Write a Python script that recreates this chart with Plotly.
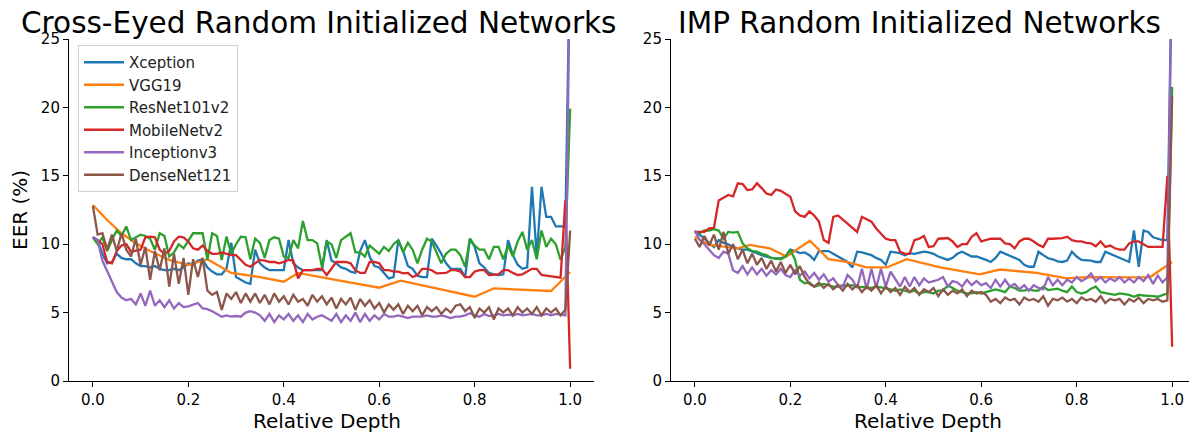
import numpy as np
import plotly.graph_objects as go

names = ["Xception", "VGG19", "ResNet101v2", "MobileNetv2", "Inceptionv3", "DenseNet121"]
colors = ["#1f77b4", "#ff7f0e", "#2ca02c", "#d62728", "#9467bd", "#8c564b"]

# ---------------- Cross-Eyed (left) ----------------
ce_xception = [
    10.5, 10.3, 9.3, 8.6, 8.7, 9.3, 9.0, 8.9, 8.9, 8.6,
    8.4, 8.4, 8.3, 8.4, 8.2, 8.1, 8.1, 8.2, 8.1, 8.3,
    8.6, 8.5, 8.8, 8.9, 8.3, 8.0, 7.8, 7.8, 8.2, 10.1,
    7.6, 7.4, 7.2, 7.1, 9.6, 8.6, 8.3, 8.1, 8.1, 8.1,
    8.1, 10.3, 8.6, 8.3, 8.1, 8.1, 8.1, 8.1, 8.1, 10.3,
    8.8, 8.6, 8.3, 8.2, 8.0, 7.9, 9.5, 10.3, 9.1, 8.4,
    8.3, 7.9, 7.5, 7.6, 10.3, 9.5, 8.4, 8.2, 7.7, 7.6,
    7.6, 10.4, 9.9, 9.3, 8.6, 8.2, 8.2, 8.2, 7.6, 10.4,
    9.8, 8.6, 8.3, 7.9, 7.8, 7.75, 7.8, 10.3, 9.2, 8.5,
    8.2, 8.3, 14.2, 9.1, 14.2, 12.0, 12.0, 11.3, 11.3, 11.3,
    32.0]
ce_vgg_x = [0, 0.03, 0.06, 0.09, 0.12, 0.16, 0.2, 0.24, 0.29, 0.35, 0.4, 0.43,
            0.5, 0.6, 0.645, 0.8, 0.84, 0.96, 1.0]
ce_vgg = [12.87, 11.77, 10.8, 10.07, 9.5, 8.85, 8.48, 8.9, 7.9, 7.6, 7.26, 7.9,
          7.45, 6.82, 7.33, 6.16, 6.77, 6.58, 7.97]
ce_resnet = [
    10.5, 10.0, 10.5, 9.5, 10.3, 11.0, 10.6, 11.3, 10.3, 10.5,
    10.7, 10.6, 10.4, 9.6, 10.8, 10.6, 9.1, 9.4, 10.0, 9.7,
    10.3, 10.8, 10.8, 10.8, 8.85, 10.8, 10.6, 8.85, 10.55, 9.3,
    10.0, 10.55, 10.5, 8.9, 10.4, 10.1, 9.0, 10.3, 10.5, 10.4,
    9.1, 9.0, 10.3, 9.7, 11.7, 10.3, 10.3, 10.06, 8.35, 10.2,
    10.0, 9.0, 10.3, 10.55, 10.8, 9.4, 9.4, 9.1, 9.9, 9.6,
    9.3, 9.8, 9.5, 10.0, 10.3, 9.4, 10.1, 9.6, 8.6, 9.6,
    10.4, 10.2, 9.4, 8.6, 9.3, 9.6, 9.6, 9.2, 8.35, 10.4,
    9.9, 9.6, 9.6, 8.9, 9.8, 9.8, 8.9, 9.9, 9.1, 10.2,
    10.9, 9.6, 10.3, 8.9, 11.0, 9.8, 10.4, 10.0, 8.85, 9.8,
    19.9]
ce_mobilenet = [
    10.5, 10.3, 10.0, 8.7, 8.6, 9.5, 9.9, 10.0, 9.45, 9.5,
    9.6, 10.5, 10.55, 10.5, 9.6, 9.3, 9.5, 10.2, 10.55, 10.5,
    10.2, 9.7, 9.6, 9.9, 9.5, 9.3, 9.3, 9.4, 9.3, 9.2,
    9.2, 8.85, 8.5, 8.35, 8.6, 8.85, 8.8, 8.7, 8.7, 8.6,
    8.7, 8.85, 8.8, 7.5, 8.1, 8.1, 8.1, 8.2, 8.2, 7.75,
    8.2, 8.7, 8.7, 8.7, 8.6, 8.1, 7.9, 7.9, 8.7, 8.7,
    8.6, 8.1, 8.1, 8.0, 8.0, 7.87, 7.9, 7.6, 7.75, 8.2,
    8.2, 8.1, 7.87, 7.9, 7.9, 8.1, 8.1, 8.0, 7.6, 7.6,
    8.0, 8.1, 8.1, 7.75, 7.75, 7.8, 8.1, 8.1, 7.9, 7.75,
    7.8, 8.0, 8.2, 8.2, 7.75, 7.7, 7.65, 7.6, 7.55, 13.2,
    0.9]
ce_inception = [
    10.5, 10.3, 8.8, 8.0, 7.2, 6.5, 6.1, 5.9, 6.0, 5.6,
    6.4, 5.5, 6.6, 5.5, 5.9, 5.4, 5.9, 5.3, 5.7, 5.4,
    5.45, 5.6, 5.7, 5.3, 5.25, 5.1, 4.9, 4.7, 4.8, 4.7,
    4.75, 4.7, 5.0, 5.1, 5.0, 4.8, 4.4, 4.9, 4.3, 4.8,
    4.5, 4.9, 4.4, 4.8, 4.3, 4.9, 4.5, 4.7, 4.8, 4.6,
    4.4, 4.9, 4.3, 4.8, 4.4, 5.0, 4.3, 4.9, 4.4, 4.8,
    4.5, 4.9, 4.7, 4.7, 4.8, 4.7, 4.6, 4.7, 4.7, 4.7,
    4.8, 4.7, 4.7, 4.8, 4.7, 4.6, 4.7, 4.7, 4.8, 4.95,
    4.8, 4.7, 4.9, 4.75, 4.8, 4.9, 4.8, 4.85, 4.8, 4.9,
    4.8, 4.85, 4.9, 4.8, 4.8, 4.9, 4.8, 4.9, 4.85, 4.8,
    32.0]
ce_densenet = [
    12.8, 10.7, 10.8, 9.6, 10.7, 9.5, 10.8, 9.6, 9.1, 10.4,
    8.5, 9.8, 7.4, 9.5, 8.1, 9.7, 6.9, 9.3, 7.1, 9.0,
    6.3, 8.9, 7.6, 9.0, 6.6, 6.3, 6.5, 5.2, 6.4, 6.0,
    6.5, 5.7, 6.4, 5.8, 6.4, 5.7, 6.3, 5.6, 6.4, 5.8,
    6.2, 5.6, 6.3, 5.8, 6.0, 5.5, 6.3, 5.8, 6.2, 5.6,
    6.1, 5.3, 6.0, 5.6, 6.1, 5.2, 6.0, 5.5, 5.9, 5.3,
    5.7, 5.0, 5.6, 5.2, 5.6, 4.9, 5.5, 5.1, 5.5, 4.8,
    5.4, 5.1, 5.4, 4.9, 5.3, 5.0, 5.5, 5.6, 5.1, 5.4,
    4.6, 5.3, 5.0, 5.4, 4.5, 5.3, 5.0, 5.3, 4.8, 5.4,
    5.0, 5.3, 4.9, 5.4, 4.8, 5.3, 5.0, 5.3, 4.8, 5.2,
    11.0]

# ---------------- IMP (right) ----------------
imp_xception = [
    10.9, 10.7, 10.4, 10.1, 9.8, 10.3, 10.1, 10.0, 9.8, 9.7,
    9.6, 9.6, 9.5, 9.35, 9.2, 9.1, 9.0, 8.97, 8.97, 9.1,
    9.6, 9.5, 9.35, 9.4, 9.2, 8.85, 9.5, 9.5, 9.5, 9.3,
    9.1, 8.9, 8.7, 8.3, 9.45, 9.4, 9.3, 9.2, 9.0, 8.85,
    8.5, 9.45, 9.4, 9.35, 9.2, 9.35, 9.3, 9.35, 9.45, 9.4,
    9.3, 9.1, 9.0, 8.85, 9.0, 9.3, 9.45, 9.3, 9.1, 9.1,
    9.0, 8.85, 8.7, 9.0, 9.45, 9.3, 9.1, 8.97, 8.85, 8.5,
    8.35, 8.35, 9.45, 9.2, 8.97, 8.9, 8.75, 8.7, 8.8, 9.45,
    9.1, 8.85, 8.85, 8.8, 8.7, 8.7, 9.45, 9.3, 9.1, 8.97,
    8.8, 8.7, 11.0, 8.35, 11.0, 10.9, 10.5, 10.4, 10.3, 10.3,
    32.0]
imp_vgg_x = [0, 0.03, 0.065, 0.09, 0.115, 0.157, 0.192, 0.241, 0.28, 0.318, 0.36, 0.402,
             0.444, 0.514, 0.597, 0.639, 0.716, 0.779, 0.821, 0.863, 0.905, 0.954, 1.0]
imp_vgg = [10.55, 9.95, 9.8, 9.7, 9.95, 9.7, 9.1, 10.25, 8.9, 8.7, 8.3, 8.3,
           8.9, 8.3, 7.8, 8.15, 7.9, 7.5, 7.6, 7.57, 7.57, 7.6, 8.7]
imp_resnet = [
    10.9, 10.8, 11.0, 11.0, 11.1, 11.0, 10.4, 10.9, 10.85, 10.9,
    10.06, 9.7, 9.5, 9.45, 9.3, 9.2, 9.0, 8.97, 8.9, 9.1,
    9.6, 8.85, 7.4, 7.15, 7.2, 6.9, 7.0, 7.1, 7.0, 6.9,
    6.9, 7.0, 6.95, 7.0, 6.9, 6.9, 6.85, 6.8, 6.9, 6.85,
    6.8, 6.7, 6.6, 6.7, 6.6, 6.5, 6.6, 6.4, 6.5, 6.5,
    6.4, 6.6, 6.6, 7.0, 6.8, 6.6, 6.5, 6.4, 6.4, 6.5,
    6.4, 6.5, 6.6, 6.7, 6.6, 6.5, 6.9, 6.8, 6.6, 6.6,
    6.7, 6.6, 6.6, 6.9, 6.65, 6.7, 6.75, 6.6, 6.5, 6.9,
    6.5, 6.4, 6.5, 6.75, 6.9, 6.5, 6.45, 6.4, 6.3, 6.4,
    6.35, 6.3, 6.16, 6.3, 6.25, 6.2, 6.2, 6.16, 6.3, 6.4,
    21.5]
imp_mobilenet = [
    10.9, 10.9, 10.9, 11.15, 11.2, 13.2, 13.4, 13.6, 13.5, 14.45,
    14.4, 13.96, 14.0, 14.45, 14.1, 13.7, 13.6, 14.0, 13.9, 13.7,
    13.47, 12.4, 12.1, 12.0, 12.4, 12.1, 11.65, 10.3, 10.1, 12.0,
    12.1, 11.8, 11.5, 11.15, 10.9, 12.0, 11.8, 11.65, 11.15, 10.8,
    10.4, 10.3, 10.3, 9.45, 9.3, 9.3, 10.3, 10.4, 10.6, 9.8,
    9.85, 10.4, 10.45, 10.45, 10.2, 9.8, 10.0, 10.0, 10.55, 10.8,
    10.2, 10.3, 10.4, 10.4, 10.4, 10.06, 10.0, 9.7, 10.2, 10.4,
    10.4, 10.2, 9.95, 9.8, 10.4, 10.4, 10.4, 10.45, 10.55, 10.3,
    10.2, 10.2, 10.1, 10.06, 9.85, 10.2, 9.8, 9.9, 9.7, 9.6,
    9.6, 10.06, 10.2, 10.2, 10.0, 9.8, 9.8, 9.8, 9.8, 15.0,
    2.5]
imp_inception = [
    11.0, 10.3, 10.0, 9.6, 9.2, 9.0, 9.45, 9.3, 8.1, 7.9,
    8.4, 7.8, 8.3, 7.8, 8.2, 7.7, 8.1, 7.8, 8.2, 7.75,
    7.6, 8.1, 7.7, 8.0, 7.5, 7.9, 7.4, 7.8, 7.26, 7.5,
    7.0, 6.9, 7.75, 7.4, 6.8, 8.2, 6.7, 8.2, 6.8, 8.2,
    6.9, 8.0, 7.4, 6.9, 7.6, 6.9, 7.6, 7.0, 7.5, 7.2,
    7.3, 7.4, 7.6, 6.9, 7.3, 7.2, 6.9, 7.4, 7.0, 7.3,
    7.0, 7.15, 6.8, 7.4, 6.9, 7.4, 6.9, 7.1, 6.7, 7.0,
    6.6, 7.0, 6.8, 6.7, 7.6, 7.0, 7.4, 7.0, 7.4, 7.2,
    7.6, 7.3, 7.5, 7.87, 7.3, 7.6, 7.2, 7.5, 7.3, 7.6,
    7.2, 7.5, 7.2, 7.6, 7.3, 7.75, 7.1, 7.7, 7.2, 7.6,
    32.0]
imp_densenet = [
    10.4, 9.8, 10.6, 9.9, 10.7, 9.6, 10.9, 9.3, 10.0, 8.9,
    9.6, 8.6, 9.3, 8.5, 9.0, 8.2, 8.8, 8.0, 8.7, 7.9,
    8.5, 7.8, 8.4, 7.6, 7.1, 6.9, 7.2, 6.8, 7.1, 6.7,
    7.0, 6.6, 7.1, 6.7, 7.0, 6.5, 6.9, 6.6, 7.0, 6.4,
    6.9, 6.5, 6.8, 6.3, 6.9, 6.5, 6.8, 6.3, 6.7, 6.5,
    6.8, 6.2, 6.7, 6.3, 6.6, 6.4, 6.7, 6.2, 6.6, 6.4,
    6.5, 6.3, 5.8, 6.0, 5.7, 6.1, 5.9, 6.0, 5.6, 6.1,
    5.9, 6.0, 5.8, 6.2, 5.5, 6.0, 5.9, 6.1, 5.8, 6.0,
    5.7, 6.1, 5.9, 6.0, 5.8, 6.2, 5.7, 6.0, 5.9, 6.0,
    5.6, 6.0, 5.8, 6.1, 5.7, 6.0, 5.9, 6.0, 5.8, 5.9,
    20.8]

x_ticks = [0.0, 0.2, 0.4, 0.6, 0.8, 1.0]
y_ticks = [0, 5, 10, 15, 20, 25]
titles = ["Cross-Eyed Random Initialized Networks", "IMP Random Initialized Networks"]


def depth(vals):
    n = len(vals)
    return np.arange(n) / (n - 1)


left = [(depth(ce_xception), ce_xception), (ce_vgg_x, ce_vgg), (depth(ce_resnet), ce_resnet),
        (depth(ce_mobilenet), ce_mobilenet), (depth(ce_inception), ce_inception),
        (depth(ce_densenet), ce_densenet)]
right = [(depth(imp_xception), imp_xception), (imp_vgg_x, imp_vgg), (depth(imp_resnet), imp_resnet),
         (depth(imp_mobilenet), imp_mobilenet), (depth(imp_inception), imp_inception),
         (depth(imp_densenet), imp_densenet)]

LW = 2.3
fig = go.Figure()
for i, (xs, ys) in enumerate(left):
    fig.add_trace(go.Scatter(x=xs, y=ys, mode="lines", name=names[i],
                             line=dict(color=colors[i], width=LW),
                             xaxis="x", yaxis="y", showlegend=True))
for i, (xs, ys) in enumerate(right):
    fig.add_trace(go.Scatter(x=xs, y=ys, mode="lines", name=names[i],
                             line=dict(color=colors[i], width=LW),
                             xaxis="x2", yaxis="y2", showlegend=False))

# The page body has an 8px margin, so the figure sits at (8, 8) in the window.
OFF = 8
W, H = 1197 - OFF, 438 - OFF


def px(x):
    return (x - OFF) / W


def py(y):
    return 1 - (y - OFF) / H


FONT = "DejaVu Sans"
axis_common = dict(showgrid=False, zeroline=False, showline=True, linecolor="black",
                   linewidth=1.1, ticks="outside", ticklen=5, tickwidth=1.1,
                   tickcolor="black", tickfont=dict(family=FONT, size=15, color="black"),
                   automargin=False, mirror=False)

fig.update_layout(
    width=W, height=H,
    margin=dict(l=0, r=0, t=0, b=0),
    paper_bgcolor="white", plot_bgcolor="white",
    font=dict(family=FONT, color="black"),
    xaxis=dict(domain=[px(69), px(594)], range=[-0.05, 1.05], tickvals=x_ticks,
               ticktext=[f"{v:.1f}" for v in x_ticks], anchor="y", **axis_common),
    yaxis=dict(domain=[py(381), py(39)], range=[0, 25], tickvals=y_ticks,
               anchor="x", **axis_common),
    xaxis2=dict(domain=[px(671), px(1196)], range=[-0.05, 1.05], tickvals=x_ticks,
                ticktext=[f"{v:.1f}" for v in x_ticks], anchor="y2", **axis_common),
    yaxis2=dict(domain=[py(381), py(39)], range=[0, 25], tickvals=y_ticks,
                anchor="x2", **axis_common),
    legend=dict(x=px(78), y=py(45), xanchor="left", yanchor="top",
                bgcolor="rgba(255,255,255,0.8)", bordercolor="#d0d0d0", borderwidth=1,
                font=dict(family=FONT, size=15, color="#222"), tracegroupgap=0,
                itemwidth=40),
    showlegend=True,
)

annotations = [
    dict(text=titles[0], x=px(318.5), y=py(22.5), xref="paper", yref="paper",
         showarrow=False, xanchor="center", yanchor="middle",
         font=dict(family=FONT, size=29.5, color="black")),
    dict(text=titles[1], x=px(919), y=py(22.5), xref="paper", yref="paper",
         showarrow=False, xanchor="center", yanchor="middle",
         font=dict(family=FONT, size=29.5, color="black")),
    dict(text="EER (%)", x=px(20), y=py(210), xref="paper", yref="paper",
         showarrow=False, textangle=-90, xanchor="center", yanchor="middle",
         font=dict(family=FONT, size=20, color="black")),
    dict(text="Relative Depth", x=px(327), y=py(421), xref="paper", yref="paper",
         showarrow=False, xanchor="center", yanchor="middle",
         font=dict(family=FONT, size=20, color="black")),
    dict(text="Relative Depth", x=px(928), y=py(421), xref="paper", yref="paper",
         showarrow=False, xanchor="center", yanchor="middle",
         font=dict(family=FONT, size=20, color="black")),
]
fig.update_layout(annotations=annotations)

fig.write_html("out.html")
